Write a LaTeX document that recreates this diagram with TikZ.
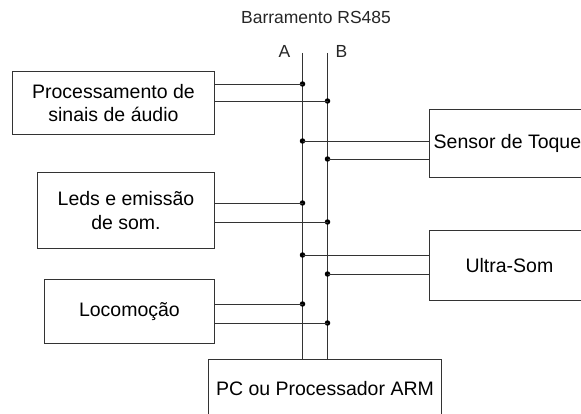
\documentclass[tikz,border=0pt]{standalone}
\usepackage{fontspec}
\setmainfont{Liberation Sans}
\usepackage{tikz}
\usetikzlibrary{positioning}

\begin{document}
\begin{tikzpicture}[
    x=1pt, y=-1pt,
    line width=0.9pt,
    box/.style={rectangle, draw=black!80, anchor=north west, inner sep=0pt,
                align=center, font=\fontsize{19.5}{23.5}\selectfont},
    lbl/.style={font=\fontsize{17.5}{20}\selectfont, text=black!85},
    dot/.style={circle, fill=black, inner sep=0pt, minimum size=5.5pt},
    wire/.style={draw=black!80}
]
\useasboundingbox (0,0) rectangle (581,414);
\clip (0,0) rectangle (581,414);

\node[lbl] (title) at (316,17) {Barramento RS485};
\node[lbl] (la) at (284.5,51) {A};
\node[lbl] (lb) at (341.5,51) {B};
\coordinate (atop) at (302.5,53);
\coordinate (btop) at (327.5,53);

\node[box, minimum width=202pt, minimum height=63pt] (proc) at (12,71) {Processamento de\\sinais de áudio};
\node[box, minimum width=177pt, minimum height=76pt] (leds) at (37,172) {Leds e emissão\\de som.};
\node[box, minimum width=170pt, minimum height=64pt] (loco) at (44,279) {Locomoção};
\node[box, minimum width=156pt, minimum height=68pt] (sens) at (429,109) {Sensor de Toque};
\node[box, minimum width=160pt, minimum height=70pt] (ultra) at (429,230) {Ultra-Som};
\node[box, minimum width=233pt, minimum height=58pt] (pc) at (208,359) {PC ou Processador ARM};

\draw[wire] (atop) -- (pc.north -| atop);
\draw[wire] (btop) -- (pc.north -| btop);

\node[dot] (pa) at (302.5,84) {};
\node[dot] (pb) at (327.5,101) {};
\node[dot] (sa) at (302.5,141) {};
\node[dot] (sb) at (327.5,159) {};
\node[dot] (ea) at (302.5,203) {};
\node[dot] (eb) at (327.5,222) {};
\node[dot] (ua) at (302.5,255) {};
\node[dot] (ub) at (327.5,274) {};
\node[dot] (ma) at (302.5,304) {};
\node[dot] (mb) at (327.5,323) {};

\draw[wire] (proc.east |- pa) -- (pa.center);
\draw[wire] (proc.east |- pb) -- (pb.center);
\draw[wire] (leds.east |- ea) -- (ea.center);
\draw[wire] (leds.east |- eb) -- (eb.center);
\draw[wire] (loco.east |- ma) -- (ma.center);
\draw[wire] (loco.east |- mb) -- (mb.center);
\draw[wire] (sens.west |- sa) -- (sa.center);
\draw[wire] (sens.west |- sb) -- (sb.center);
\draw[wire] (ultra.west |- ua) -- (ua.center);
\draw[wire] (ultra.west |- ub) -- (ub.center);
\end{tikzpicture}
\end{document}
